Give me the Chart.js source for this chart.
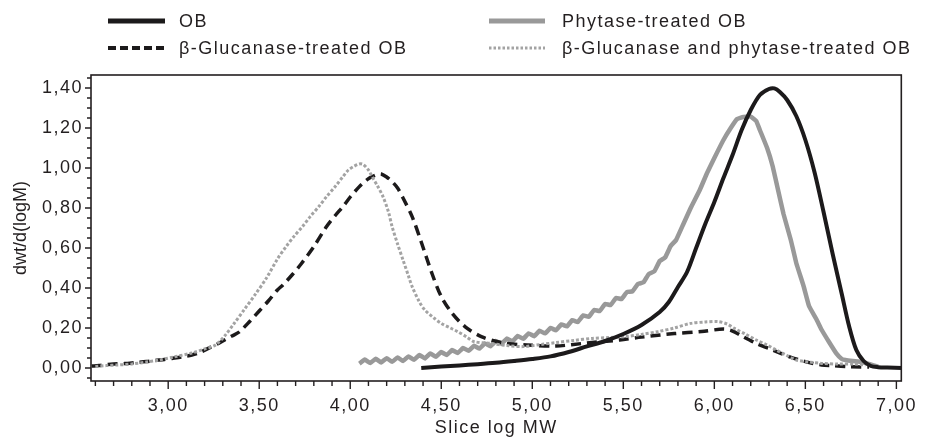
<!DOCTYPE html>
<html>
<head>
<meta charset="utf-8">
<script src="https://cdn.jsdelivr.net/npm/chart.js@4.4.1/dist/chart.umd.min.js"></script>
<style>
  html, body { margin: 0; padding: 0; background: #fff; }
  #wrap { width: 928px; height: 437px; position: relative; }
</style>
</head>
<body>
<div id="wrap"><canvas id="chart" width="928" height="437"></canvas></div>
<script>
// Series labels
const seriesNames = ['OB', 'Phytase-treated OB', 'β-Glucanase-treated OB', 'β-Glucanase and phytase-treated OB'];
const xTitle = 'Slice log MW';
const yTitle = 'dwt/d(logM)';

// OB (black solid)
const obX = [4.39, 4.5, 4.6, 4.7, 4.8, 4.9, 5.0, 5.1, 5.2, 5.3, 5.4, 5.5, 5.6, 5.7, 5.75, 5.8, 5.85, 5.9, 5.95, 6.0, 6.05, 6.1, 6.15, 6.2, 6.25, 6.3, 6.33, 6.36, 6.4, 6.45, 6.5, 6.55, 6.6, 6.65, 6.7, 6.74, 6.78, 6.82, 6.86, 6.9, 6.95, 7.03];
const obY = [0.000, 0.007, 0.013, 0.019, 0.026, 0.035, 0.045, 0.058, 0.080, 0.108, 0.135, 0.170, 0.215, 0.280, 0.330, 0.405, 0.480, 0.600, 0.720, 0.830, 0.950, 1.065, 1.190, 1.290, 1.365, 1.395, 1.398, 1.380, 1.340, 1.260, 1.140, 0.980, 0.780, 0.570, 0.370, 0.210, 0.090, 0.035, 0.010, 0.004, 0.002, 0.000];

// Phytase-treated OB (grey solid, saw-toothed on the rising side)
const phyX = [4.05, 4.08, 4.11, 4.14, 4.17, 4.20, 4.23, 4.26, 4.29, 4.32, 4.35, 4.38, 4.41, 4.44, 4.47, 4.50, 4.53, 4.56, 4.59, 4.62, 4.65, 4.68, 4.71, 4.74, 4.77, 4.80, 4.83, 4.86, 4.89, 4.92, 4.95, 4.98, 5.01, 5.04, 5.07, 5.10, 5.13, 5.16, 5.19, 5.22, 5.25, 5.28, 5.31, 5.34, 5.37, 5.40, 5.43, 5.46, 5.49, 5.52, 5.55, 5.58, 5.61, 5.64, 5.67, 5.70, 5.73, 5.76, 5.79, 5.83, 5.87, 5.92, 5.96, 6.00, 6.05, 6.09, 6.125, 6.16, 6.20, 6.23, 6.25, 6.29, 6.32, 6.35, 6.38, 6.42, 6.45, 6.49, 6.52, 6.56, 6.59, 6.63, 6.67, 6.70, 6.72, 6.76, 6.81, 6.85, 6.90];
const phyY = [0.022, 0.042, 0.025, 0.046, 0.028, 0.049, 0.031, 0.053, 0.035, 0.058, 0.041, 0.065, 0.048, 0.073, 0.056, 0.080, 0.065, 0.090, 0.075, 0.100, 0.086, 0.111, 0.097, 0.123, 0.109, 0.135, 0.121, 0.147, 0.133, 0.160, 0.146, 0.173, 0.159, 0.186, 0.173, 0.200, 0.189, 0.218, 0.208, 0.239, 0.230, 0.263, 0.256, 0.290, 0.285, 0.320, 0.315, 0.350, 0.345, 0.380, 0.383, 0.420, 0.428, 0.470, 0.483, 0.535, 0.553, 0.610, 0.640, 0.720, 0.800, 0.890, 0.975, 1.050, 1.140, 1.200, 1.245, 1.255, 1.257, 1.235, 1.190, 1.100, 1.010, 0.890, 0.770, 0.640, 0.525, 0.410, 0.310, 0.245, 0.190, 0.130, 0.073, 0.045, 0.040, 0.035, 0.030, 0.020, 0.007];

// β-Glucanase-treated OB (black dashed)
const gluX = [2.58, 2.62, 2.70, 2.76, 2.82, 2.88, 2.92, 2.98, 3.02, 3.08, 3.13, 3.18, 3.22, 3.27, 3.31, 3.35, 3.39, 3.45, 3.50, 3.55, 3.60, 3.63, 3.68, 3.73, 3.80, 3.87, 3.92, 3.96, 4.00, 4.05, 4.09, 4.12, 4.15, 4.17, 4.20, 4.23, 4.26, 4.29, 4.34, 4.39, 4.45, 4.50, 4.56, 4.63, 4.72, 4.83, 4.97, 5.13, 5.30, 5.48, 5.60, 5.78, 5.93, 6.05, 6.10, 6.15, 6.23, 6.32, 6.41, 6.50, 6.59, 6.65, 6.74, 6.85];
const gluY = [0.010, 0.012, 0.020, 0.022, 0.027, 0.032, 0.037, 0.043, 0.048, 0.056, 0.065, 0.080, 0.098, 0.120, 0.140, 0.160, 0.180, 0.235, 0.285, 0.335, 0.390, 0.415, 0.465, 0.520, 0.607, 0.707, 0.765, 0.807, 0.855, 0.907, 0.940, 0.957, 0.968, 0.970, 0.955, 0.932, 0.900, 0.850, 0.757, 0.630, 0.470, 0.357, 0.273, 0.207, 0.157, 0.127, 0.115, 0.110, 0.125, 0.140, 0.155, 0.172, 0.182, 0.195, 0.185, 0.160, 0.123, 0.090, 0.057, 0.032, 0.015, 0.012, 0.007, 0.005];

// β-Glucanase and phytase-treated OB (grey dotted)
const bothX = [2.60, 2.66, 2.72, 2.80, 2.88, 2.95, 3.03, 3.13, 3.20, 3.26, 3.31, 3.36, 3.42, 3.48, 3.54, 3.60, 3.65, 3.69, 3.74, 3.78, 3.83, 3.87, 3.92, 3.96, 3.99, 4.02, 4.05, 4.07, 4.10, 4.12, 4.15, 4.18, 4.21, 4.23, 4.26, 4.29, 4.32, 4.34, 4.38, 4.41, 4.46, 4.50, 4.55, 4.59, 4.64, 4.68, 4.77, 4.86, 4.95, 5.05, 5.13, 5.23, 5.33, 5.42, 5.51, 5.60, 5.69, 5.78, 5.87, 5.95, 6.02, 6.07, 6.11, 6.17, 6.23, 6.29, 6.34, 6.40, 6.45, 6.52, 6.59, 6.68, 6.77, 6.83];
const bothY = [0.008, 0.012, 0.015, 0.020, 0.030, 0.040, 0.055, 0.075, 0.095, 0.115, 0.160, 0.220, 0.295, 0.370, 0.450, 0.545, 0.610, 0.657, 0.710, 0.757, 0.810, 0.857, 0.910, 0.957, 0.990, 1.008, 1.020, 1.018, 0.990, 0.957, 0.910, 0.857, 0.780, 0.707, 0.620, 0.540, 0.460, 0.407, 0.330, 0.290, 0.250, 0.223, 0.200, 0.182, 0.155, 0.132, 0.123, 0.112, 0.107, 0.118, 0.127, 0.138, 0.148, 0.152, 0.157, 0.168, 0.182, 0.200, 0.223, 0.230, 0.232, 0.220, 0.198, 0.170, 0.140, 0.115, 0.090, 0.062, 0.040, 0.030, 0.023, 0.020, 0.020, 0.015];

// Axis ticks
const xTicks = [3.0, 3.5, 4.0, 4.5, 5.0, 5.5, 6.0, 6.5, 7.0];
const yTicks = [0.0, 0.2, 0.4, 0.6, 0.8, 1.0, 1.2, 1.4];
const xRange = [2.576, 7.027];
const yRange = [-0.065, 1.465];

const FONT = "'Liberation Sans', Arial, Helvetica, sans-serif";
const INK = '#231f20';
const SPACING = '1.5px'; // the source figure's lettering is slightly stretched sideways

function pairs(xs, ys) {
    return xs.map((x, i) => ({ x: x, y: ys[i] }));
}

function fmt(v) {
    return v.toFixed(2).replace('.', ',');
}

const styles = [
    { color: '#1c1a1b', width: 4, dash: [], legendDash: [], legendWidth: 5, order: 1, tension: 0.3 },
    { color: '#999999', width: 4.5, dash: [], legendDash: [], legendWidth: 5, order: 4, tension: 0.1 },
    { color: '#1c1a1b', width: 3.5, dash: [10, 6], legendDash: [8, 4], legendWidth: 4, order: 3, tension: 0.3 },
    { color: '#a3a3a3', width: 3, dash: [3, 2], legendDash: [2.5, 2], legendWidth: 3, order: 2, tension: 0.3 }
];
const seriesData = [pairs(obX, obY), pairs(phyX, phyY), pairs(gluX, gluY), pairs(bothX, bothY)];

// Legend slots: [lineStart, lineEnd, textX, rowY]
const legendSlots = [
    [108, 165, 179, 21],
    [489, 545, 562, 21],
    [108, 165, 179, 48],
    [489, 545, 562, 48]
];

// Frame, major/minor ticks, y title and the two-column legend
const framePlugin = {
    id: 'frame',
    beforeDraw(chart) {
        chart.ctx.letterSpacing = SPACING;
    },
    afterDraw(chart) {
        const { ctx, chartArea: a, scales } = chart;
        const x = scales.x, y = scales.y;
        ctx.save();
        ctx.strokeStyle = INK;
        ctx.lineWidth = 1.6;
        ctx.setLineDash([]);
        ctx.strokeRect(a.left, a.top, a.right - a.left, a.bottom - a.top);

        ctx.beginPath();
        for (let i = 26; i <= 70; i++) {
            const px = x.getPixelForValue(i / 10);
            const len = (i % 5 === 0) ? 8 : 5;
            ctx.moveTo(px, a.bottom);
            ctx.lineTo(px, a.bottom + len);
        }
        for (let i = -1; i <= 29; i++) {
            const v = i / 20;
            if (v < yRange[0] || v > yRange[1]) continue;
            const py = y.getPixelForValue(v);
            const len = (i % 4 === 0) ? 6 : 4;
            ctx.moveTo(a.left, py);
            ctx.lineTo(a.left - len, py);
        }
        ctx.lineWidth = 1.4;
        ctx.stroke();

        // y title (vertical text is not stretched in the source)
        ctx.save();
        ctx.letterSpacing = '0px';
        ctx.fillStyle = INK;
        ctx.font = '18px ' + FONT;
        ctx.textAlign = 'center';
        ctx.textBaseline = 'middle';
        ctx.translate(21, (a.top + a.bottom) / 2);
        ctx.rotate(-Math.PI / 2);
        ctx.fillText(yTitle, 0, 0);
        ctx.restore();

        // legend
        chart.data.datasets.forEach((ds, i) => {
            const s = styles[i];
            const slot = legendSlots[i];
            ctx.beginPath();
            ctx.strokeStyle = s.color;
            ctx.lineWidth = s.legendWidth;
            ctx.setLineDash(s.legendDash);
            ctx.moveTo(slot[0], slot[3]);
            ctx.lineTo(slot[1], slot[3]);
            ctx.stroke();
            ctx.setLineDash([]);
            ctx.fillStyle = INK;
            ctx.font = '18px ' + FONT;
            ctx.textBaseline = 'middle';
            ctx.textAlign = 'left';
            ctx.fillText(ds.label, slot[2], slot[3] + 1);
        });
        ctx.restore();
    }
};

const ctx = document.getElementById('chart').getContext('2d');
const chart = new Chart(ctx, {
    type: 'line',
    data: {
        datasets: seriesNames.map((name, i) => ({
            label: name,
            data: seriesData[i],
            borderColor: styles[i].color,
            borderWidth: styles[i].width,
            borderDash: styles[i].dash,
            borderCapStyle: 'butt',
            borderJoinStyle: 'round',
            pointRadius: 0,
            fill: false,
            tension: styles[i].tension,
            order: styles[i].order
        }))
    },
    options: {
        responsive: false,
        animation: false,
        layout: { padding: { top: 75, right: 15, left: 0, bottom: 0 } },
        plugins: {
            legend: { display: false },
            tooltip: { enabled: false }
        },
        scales: {
            x: {
                type: 'linear',
                min: xRange[0],
                max: xRange[1],
                afterBuildTicks: scale => { scale.ticks = xTicks.map(v => ({ value: v })); },
                afterFit: scale => { scale.height = 56; },
                grid: { display: false, drawTicks: false },
                border: { display: false },
                ticks: {
                    padding: 14,
                    color: INK,
                    font: { family: FONT, size: 18 },
                    maxRotation: 0,
                    callback: v => fmt(v)
                },
                title: {
                    display: true,
                    text: xTitle,
                    color: INK,
                    font: { family: FONT, size: 18, lineHeight: 1 },
                    padding: { top: 0, bottom: 0 }
                }
            },
            y: {
                min: yRange[0],
                max: yRange[1],
                afterBuildTicks: scale => { scale.ticks = yTicks.map(v => ({ value: v })); },
                afterFit: scale => { scale.width = 91; },
                grid: { display: false, drawTicks: false },
                border: { display: false },
                ticks: {
                    padding: 8,
                    color: INK,
                    font: { family: FONT, size: 18 },
                    callback: v => fmt(v)
                },
                title: { display: false }
            }
        }
    },
    plugins: [framePlugin]
});
</script>
</body>
</html>
